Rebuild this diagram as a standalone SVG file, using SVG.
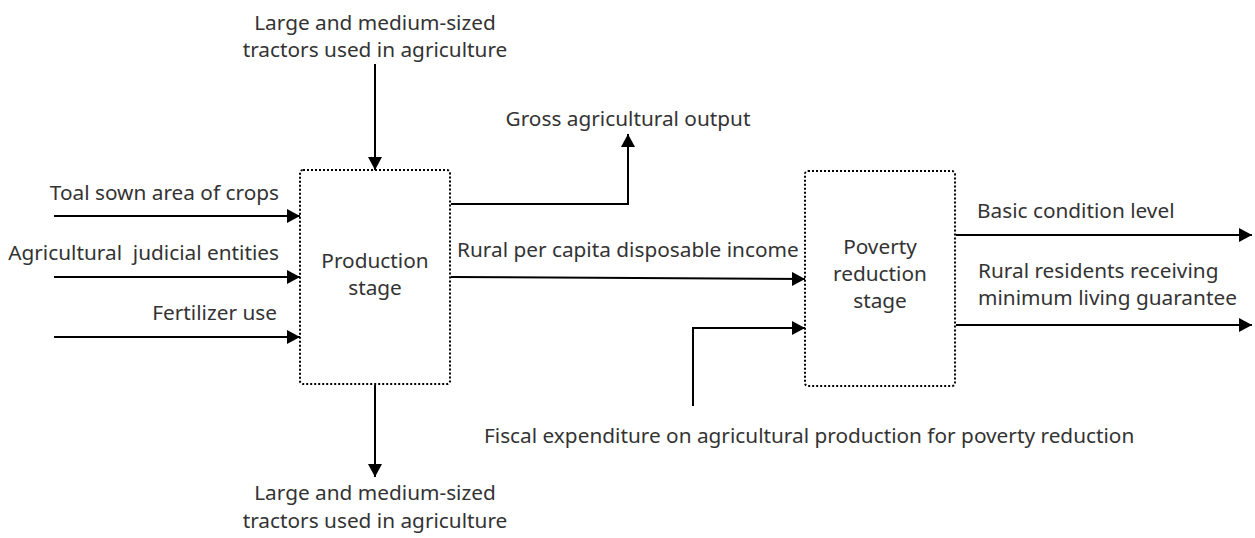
<svg xmlns="http://www.w3.org/2000/svg" width="1255" height="538" viewBox="0 0 1255 538">
  <style>
    .lbl { font-family: "Noto Sans", "Open Sans", sans-serif; font-size: 20.8px; fill: #333333; }
    .mid { text-anchor: middle; }
    .end { text-anchor: end; }
    .stage { fill: #ffffff; stroke: #000000; stroke-width: 2; stroke-dasharray: 2 2; }
    .wire { fill: none; stroke: #000000; stroke-width: 2; marker-end: url(#tip); }
  </style>
  <defs>
    <marker id="tip" viewBox="0 0 13 14" refX="13" refY="7" markerWidth="13" markerHeight="14" markerUnits="userSpaceOnUse" orient="auto">
      <path d="M0,0 L13,7 L0,14 Z" fill="#000000"/>
    </marker>
  </defs>

  <rect width="1255" height="538" fill="#ffffff"/>

  <!-- connectors -->
  <g id="connectors">
    <path class="wire" d="M54,216 L300,216"/>
    <path class="wire" d="M54,277 L300,277"/>
    <path class="wire" d="M54,337 L300,337"/>
    <path class="wire" d="M375,64 L375,170"/>
    <path class="wire" d="M375,385 L375,477"/>
    <path class="wire" d="M451,204 L628,204 L628,134"/>
    <path class="wire" d="M451,277 L805,279"/>
    <path class="wire" d="M693,406 L693,328 L805,328"/>
    <path class="wire" d="M956,235 L1252,235"/>
    <path class="wire" d="M956,325 L1252,325"/>
  </g>

  <!-- production stage -->
  <g id="production-stage">
    <rect class="stage" x="300" y="170" width="150" height="214" rx="3"/>
    <text class="lbl mid" x="375" y="268">Production</text>
    <text class="lbl mid" x="375" y="295">stage</text>
  </g>

  <!-- poverty reduction stage -->
  <g id="poverty-reduction-stage">
    <rect class="stage" x="805" y="171" width="150" height="215" rx="3"/>
    <text class="lbl mid" x="880" y="254">Poverty</text>
    <text class="lbl mid" x="880" y="281">reduction</text>
    <text class="lbl mid" x="880" y="308">stage</text>
  </g>

  <!-- inputs -->
  <g id="tractors-in">
    <text class="lbl mid" x="375" y="30">Large and medium-sized</text>
    <text class="lbl mid" x="375" y="57">tractors used in agriculture</text>
  </g>
  <g id="sown-area">
    <text class="lbl end" x="279" y="200">Toal sown area of crops</text>
  </g>
  <g id="judicial-entities">
    <text class="lbl end" x="279" y="260" xml:space="preserve">Agricultural  judicial entities</text>
  </g>
  <g id="fertilizer">
    <text class="lbl end" x="277" y="320">Fertilizer use</text>
  </g>
  <g id="fiscal-expenditure">
    <text class="lbl" x="484" y="443">Fiscal expenditure on agricultural production for poverty reduction</text>
  </g>

  <!-- outputs -->
  <g id="tractors-out">
    <text class="lbl mid" x="375" y="500">Large and medium-sized</text>
    <text class="lbl mid" x="375" y="528">tractors used in agriculture</text>
  </g>
  <g id="gross-output">
    <text class="lbl mid" x="628" y="126">Gross agricultural output</text>
  </g>
  <g id="disposable-income">
    <text class="lbl" x="457" y="257">Rural per capita disposable income</text>
  </g>
  <g id="basic-condition">
    <text class="lbl" x="977" y="218">Basic condition level</text>
  </g>
  <g id="minimum-living">
    <text class="lbl" x="978" y="278">Rural residents receiving</text>
    <text class="lbl" x="978" y="305">minimum living guarantee</text>
  </g>
</svg>
